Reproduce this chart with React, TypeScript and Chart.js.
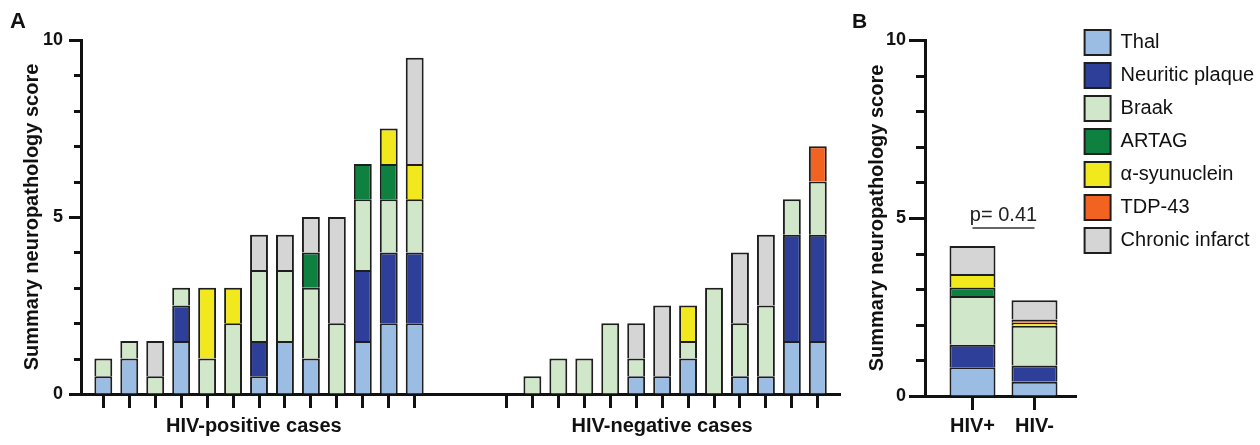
import React, { useEffect, useRef } from 'react';
import { Chart, registerables } from 'chart.js';

Chart.register(...registerables);

const FONT = '"Liberation Sans", Arial, Helvetica, sans-serif';
const INK = '#111111';
const BAR_EDGE = '#1e1e1e';

// ---- Series (stacked bottom -> top) ----
const seriesNames = ['Thal', 'Neuritic plaque', 'Braak', 'ARTAG', 'α-syunuclein', 'TDP-43', 'Chronic infarct'];
const seriesColors = ['#9BBDE3', '#2D3F98', '#D1E7C9', '#0E8040', '#F1E81E', '#F26322', '#D5D5D5'];

// ---- Panel A: HIV-positive cases ----
const hivPosThal = [0.5, 1, 0, 1.5, 0, 0, 0.5, 1.5, 1, 0, 1.5, 2, 2];
const hivPosNeuritic = [0, 0, 0, 1, 0, 0, 1, 0, 0, 0, 2, 2, 2];
const hivPosBraak = [0.5, 0.5, 0.5, 0.5, 1, 2, 2, 2, 2, 2, 2, 1.5, 1.5];
const hivPosArtag = [0, 0, 0, 0, 0, 0, 0, 0, 1, 0, 1, 1, 0];
const hivPosSyn = [0, 0, 0, 0, 2, 1, 0, 0, 0, 0, 0, 1, 1];
const hivPosTdp = [0, 0, 0, 0, 0, 0, 0, 0, 0, 0, 0, 0, 0];
const hivPosInfarct = [0, 0, 1, 0, 0, 0, 1, 1, 1, 3, 0, 0, 3];

// ---- Panel A: HIV-negative cases ----
const hivNegThal = [0, 0, 0, 0, 0, 0.5, 0.5, 1, 0, 0.5, 0.5, 1.5, 1.5];
const hivNegNeuritic = [0, 0, 0, 0, 0, 0, 0, 0, 0, 0, 0, 3, 3];
const hivNegBraak = [0, 0.5, 1, 1, 2, 0.5, 0, 0.5, 3, 1.5, 2, 1, 1.5];
const hivNegArtag = [0, 0, 0, 0, 0, 0, 0, 0, 0, 0, 0, 0, 0];
const hivNegSyn = [0, 0, 0, 0, 0, 0, 0, 1, 0, 0, 0, 0, 0];
const hivNegTdp = [0, 0, 0, 0, 0, 0, 0, 0, 0, 0, 0, 0, 1];
const hivNegInfarct = [0, 0, 0, 0, 0, 1, 2, 0, 0, 2, 2, 0, 0];

const groupTitles = ['HIV-positive cases', 'HIV-negative cases'];

// ---- Panel B: summary (mean) scores ----
const summaryLabels = ['HIV+', 'HIV-'];
const summaryThal = [0.81, 0.4];
const summaryNeuritic = [0.63, 0.46];
const summaryBraak = [1.37, 1.11];
const summaryArtag = [0.24, 0];
const summarySyn = [0.38, 0.09];
const summaryTdp = [0, 0.09];
const summaryInfarct = [0.78, 0.54];
const pValueLabel = 'p= 0.41';
const pValueLineAt = 4.72;

// ---- Axis ticks / titles ----
const yMajorTicks = [0, 5, 10];
const yMinorTicks = [1, 2, 3, 4, 6, 7, 8, 9];
const yTitle = 'Summary neuropathology score';

// ---- layout constants (axis placement, not data) ----
const NEG_GROUP_START = 16.535; // x-position of first HIV-negative case
const A_X_MIN = 0.14;
const A_X_MAX = 29.39;
const GROUP_LABEL_POS = [6.8, 22.535];
const B_X_MIN = 0.234;
const B_X_MAX = 2.679;

const posSeries = [hivPosThal, hivPosNeuritic, hivPosBraak, hivPosArtag, hivPosSyn, hivPosTdp, hivPosInfarct];
const negSeries = [hivNegThal, hivNegNeuritic, hivNegBraak, hivNegArtag, hivNegSyn, hivNegTdp, hivNegInfarct];
const sumSeries = [summaryThal, summaryNeuritic, summaryBraak, summaryArtag, summarySyn, summaryTdp, summaryInfarct];

const posX = hivPosThal.map((_, i) => i + 1);
const negX = hivNegThal.map((_, i) => i + NEG_GROUP_START);
const caseTicks = [...posX, ...negX];
const sumX = summaryLabels.map((_, i) => i + 1);

const bold = (size: number) => ({ family: FONT, size, weight: 'bold' as const });

const setTicks = (values: number[]) => (scale: any) => {
  scale.ticks = values.map((v) => ({ value: v }));
};

const yAxis = (width: number, tickLen: number, labelPad: number, titlePad: number) => ({
  type: 'linear',
  stacked: true,
  min: 0,
  max: 10,
  afterBuildTicks: setTicks(yMajorTicks),
  afterFit: (scale: any) => {
    scale.width = width;
  },
  ticks: { autoSkip: false, font: bold(18), color: INK, padding: labelPad },
  grid: { drawOnChartArea: false, tickLength: tickLen, tickWidth: 3, tickColor: INK },
  border: { display: true, width: 3, color: INK },
  title: { display: true, text: yTitle, font: bold(20), color: INK, padding: { top: titlePad, bottom: 0 } },
});

// short minor tick marks on the y axis, placed via the y scale
const minorTicksPlugin = (minorLen: number) => ({
  id: 'yMinorTicks',
  afterDraw(chart: any) {
    const { ctx, chartArea, scales } = chart;
    const y = scales.y;
    ctx.save();
    ctx.strokeStyle = INK;
    ctx.lineWidth = 3;
    ctx.beginPath();
    yMinorTicks.forEach((v) => {
      const py = Math.round(y.getPixelForValue(v)) + 0.5;
      ctx.moveTo(chartArea.left - minorLen, py);
      ctx.lineTo(chartArea.left, py);
    });
    ctx.stroke();
    ctx.restore();
  },
});

const pValuePlugin = {
  id: 'pValueBracket',
  afterDatasetsDraw(chart: any) {
    const { ctx, scales } = chart;
    const x1 = scales.x.getPixelForValue(sumX[0]);
    const x2 = scales.x.getPixelForValue(sumX[1]);
    const yy = scales.y.getPixelForValue(pValueLineAt);
    ctx.save();
    ctx.strokeStyle = '#333';
    ctx.lineWidth = 1.5;
    ctx.beginPath();
    ctx.moveTo(x1, yy);
    ctx.lineTo(x2, yy);
    ctx.stroke();
    ctx.font = `20px ${FONT}`;
    ctx.fillStyle = '#222';
    ctx.textAlign = 'center';
    ctx.textBaseline = 'alphabetic';
    ctx.fillText(pValueLabel, (x1 + x2) / 2, yy - 7);
    ctx.restore();
  },
};

export default function App() {
  const refA = useRef<HTMLCanvasElement>(null);
  const refB = useRef<HTMLCanvasElement>(null);

  useEffect(() => {
    Chart.defaults.font.family = FONT;
    Chart.defaults.color = INK;

    const datasetsA = seriesNames.map((name, s) => ({
      label: name,
      data: [
        ...posSeries[s].map((v, i) => ({ x: posX[i], y: v || null })),
        ...negSeries[s].map((v, i) => ({ x: negX[i], y: v || null })),
      ],
      backgroundColor: seriesColors[s],
      borderColor: BAR_EDGE,
      borderWidth: 2,
      barPercentage: 0.69,
      categoryPercentage: 1,
      xAxisID: 'x',
      yAxisID: 'y',
    }));

    const chartA = new Chart(refA.current as HTMLCanvasElement, {
      type: 'bar',
      data: { datasets: datasetsA as any },
      plugins: [minorTicksPlugin(7)],
      options: {
        animation: false,
        responsive: false,
        devicePixelRatio: 1,
        layout: { padding: { top: 40, right: 10, bottom: 1, left: 0 } },
        plugins: { legend: { display: false }, tooltip: { enabled: false } },
        scales: {
          x: {
            type: 'linear',
            offset: false,
            min: A_X_MIN,
            max: A_X_MAX,
            stacked: true,
            afterBuildTicks: setTicks(caseTicks),
            ticks: { display: false },
            grid: { offset: false, drawOnChartArea: false, drawTicks: true, tickLength: 14, tickWidth: 3, tickColor: INK },
            border: { display: true, width: 3, color: INK },
          },
          xg: {
            type: 'linear',
            position: 'bottom',
            offset: false,
            min: A_X_MIN,
            max: A_X_MAX,
            afterBuildTicks: setTicks(GROUP_LABEL_POS),
            ticks: {
              callback: (_v: any, i: number) => groupTitles[i],
              font: bold(20),
              color: INK,
              padding: 6,
              maxRotation: 0,
              autoSkip: false,
            },
            grid: { offset: false, display: false, drawTicks: false },
            border: { display: false },
          },
          y: yAxis(81, 12, 6, 20),
        } as any,
      },
    });

    const datasetsB = seriesNames.map((name, s) => ({
      label: name,
      data: sumSeries[s].map((v, i) => ({ x: sumX[i], y: v || null })),
      backgroundColor: seriesColors[s],
      borderColor: BAR_EDGE,
      borderWidth: 2,
      barPercentage: 0.742,
      categoryPercentage: 1,
      xAxisID: 'x',
      yAxisID: 'y',
    }));

    const chartB = new Chart(refB.current as HTMLCanvasElement, {
      type: 'bar',
      data: { datasets: datasetsB as any },
      plugins: [pValuePlugin, minorTicksPlugin(9)],
      options: {
        animation: false,
        responsive: false,
        devicePixelRatio: 1,
        layout: { padding: { top: 22, right: 0, bottom: 3, left: 0 } },
        plugins: {
          tooltip: { enabled: false },
          legend: {
            display: true,
            position: 'right',
            align: 'start',
            maxWidth: 260,
            labels: {
              boxWidth: 26,
              boxHeight: 25,
              padding: 8,
              color: INK,
              font: { family: FONT, size: 20 },
            },
          },
        },
        scales: {
          x: {
            type: 'linear',
            offset: false,
            min: B_X_MIN,
            max: B_X_MAX,
            stacked: true,
            afterBuildTicks: setTicks(sumX),
            ticks: {
              callback: (_v: any, i: number) => summaryLabels[i],
              font: bold(20),
              color: INK,
              padding: 4,
              maxRotation: 0,
              autoSkip: false,
            },
            grid: { offset: false, drawOnChartArea: false, drawTicks: true, tickLength: 14, tickWidth: 3, tickColor: INK },
            border: { display: true, width: 3, color: INK },
          },
          xTop: {
            type: 'linear',
            position: 'top',
            offset: false,
            min: B_X_MIN,
            max: B_X_MAX,
            ticks: { display: false },
            grid: { offset: false, display: false, drawTicks: false },
            border: { display: false },
            afterFit: (scale: any) => {
              scale.height = 18;
            },
          },
          y: yAxis(75, 16, 3, 15),
        } as any,
      },
    });

    return () => {
      chartA.destroy();
      chartB.destroy();
    };
  }, []);

  const letter = (left: number, top: number, size: number) => ({
    position: 'absolute' as const,
    left,
    top,
    fontFamily: FONT,
    fontWeight: 'bold' as const,
    fontSize: size,
    lineHeight: 1,
    color: INK,
  });

  return (
    <div
      style={{
        position: 'fixed',
        left: 0,
        top: 0,
        width: 1260,
        height: 445,
        overflow: 'hidden',
        background: '#ffffff',
      }}
    >
      <canvas ref={refA} width={850} height={445} style={{ position: 'absolute', left: 0, top: 0, width: 850, height: 445 }} />
      <canvas ref={refB} width={414} height={445} style={{ position: 'absolute', left: 850, top: 0, width: 414, height: 445 }} />
      <div style={letter(10, 10, 22)}>A</div>
      <div style={letter(852, 10, 21)}>B</div>
    </div>
  );
}
